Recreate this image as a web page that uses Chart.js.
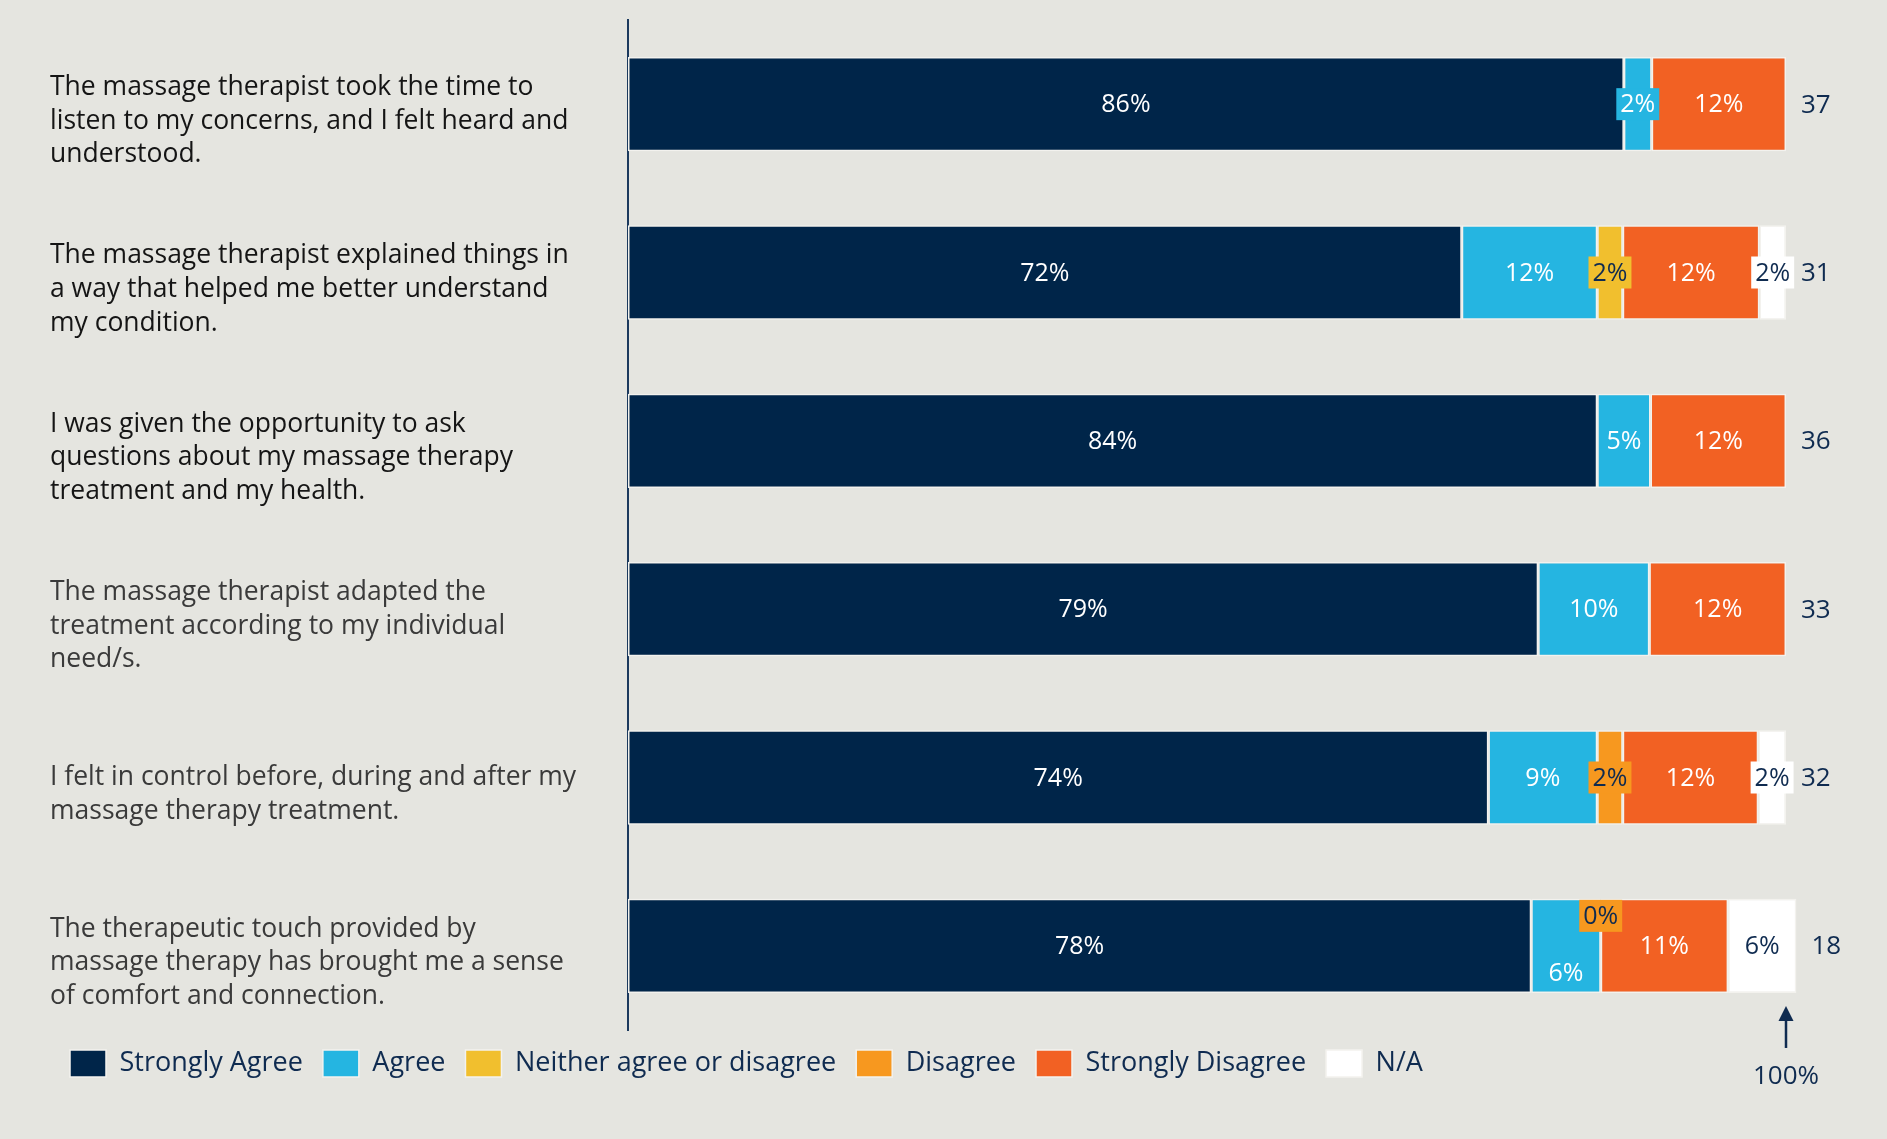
<!DOCTYPE html>
<html lang="en">
<head>
    <meta charset="UTF-8">
    <title>Massage therapy survey responses</title>
    <script src="https://cdn.jsdelivr.net/npm/chart.js"></script>
    <style>
        html, body { margin: 0; padding: 0; background: #e5e5e0; }
        #wrap { width: 1887px; height: 1139px; position: relative; }
    </style>
</head>
<body>
    <div id="wrap"><canvas id="surveyChart"></canvas></div>
    <script>
        // questions (one array of lines per bar)
        const questions = [
            ['The massage therapist took the time to', 'listen to my concerns, and I felt heard and', 'understood.'],
            ['The massage therapist explained things in', 'a way that helped me better understand', 'my condition.'],
            ['I was given the opportunity to ask', 'questions about my massage therapy', 'treatment and my health.'],
            ['The massage therapist adapted the', 'treatment according to my individual', 'need/s.'],
            ['I felt in control before, during and after my', 'massage therapy treatment.'],
            ['The therapeutic touch provided by', 'massage therapy has brought me a sense', 'of comfort and connection.']
        ];

        // percentages per answer, one value per question (null = no answers)
        const stronglyAgree    = [86, 72, 83.7, 78.6, 74.3, 78];
        const agree            = [2.4, 11.7, 4.6, 9.6, 9.4, 6];
        const neither          = [null, 2.2, null, null, null, null];
        const disagree         = [null, null, null, null, 2.2, 0];
        const stronglyDisagree = [11.6, 11.8, 11.7, 11.8, 11.7, 11];
        const notApplicable    = [null, 2.3, null, null, 2.4, 5.9];

        // number of respondents per question
        const respondents = [37, 31, 36, 33, 32, 18];

        const NAVY = '#0f2b50';
        const FONT = "'Open Sans', sans-serif";

        Chart.defaults.font.family = FONT;

        const series = [
            { label: 'Strongly Agree', data: stronglyAgree, color: '#002549', text: '#ffffff' },
            { label: 'Agree', data: agree, color: '#25b5e1', text: '#ffffff' },
            { label: 'Neither agree or disagree', data: neither, color: '#f1bf2e', text: NAVY },
            { label: 'Disagree', data: disagree, color: '#f7981f', text: NAVY },
            { label: 'Strongly Disagree', data: stronglyDisagree, color: '#f26123', text: '#ffffff' },
            { label: 'N/A', data: notApplicable, color: '#ffffff', text: NAVY }
        ];

        const bgPlugin = {
            id: 'bg',
            beforeDraw(chart) {
                const { ctx, width, height } = chart;
                ctx.save();
                ctx.fillStyle = '#e5e5e0';
                ctx.fillRect(0, 0, width, height);
                ctx.restore();
            }
        };

        // percentage labels inside the segments, plus respondent counts
        const segLabels = {
            id: 'segLabels',
            afterDatasetsDraw(chart) {
                const { ctx } = chart;
                ctx.save();
                ctx.textAlign = 'center';
                ctx.textBaseline = 'middle';
                for (let i = 0; i < questions.length; i++) {
                    ctx.font = '25px ' + FONT;
                    const items = [];
                    let endX = 0, rowY = 0;
                    chart.data.datasets.forEach((ds, d) => {
                        const v = ds.data[i];
                        if (v === null || v === undefined) return;
                        const bar = chart.getDatasetMeta(d).data[i];
                        const text = Math.round(v) + '%';
                        const w = ctx.measureText(text).width;
                        const segW = Math.abs(bar.x - bar.base);
                        items.push({
                            text, w,
                            x: (bar.x + bar.base) / 2,
                            y: bar.y,
                            boxed: w + 6 > segW,
                            fill: series[d].color,
                            color: series[d].text
                        });
                        endX = Math.max(endX, bar.x);
                        rowY = bar.y;
                    });
                    // push colliding neighbours apart vertically
                    for (let k = 1; k < items.length; k++) {
                        const a = items[k - 1], b = items[k];
                        if (b.x - b.w / 2 - 4 < a.x + a.w / 2 + 4) {
                            a.y += 27;
                            b.y -= 30;
                        }
                    }
                    items.forEach(it => {
                        if (it.boxed) {
                            ctx.fillStyle = it.fill;
                            ctx.fillRect(it.x - it.w / 2 - 4, it.y - 16, it.w + 8, 32);
                        }
                        ctx.fillStyle = it.color;
                        ctx.fillText(it.text, it.x, it.y + 1);
                    });

                    ctx.font = '26px ' + FONT;
                    ctx.textAlign = 'left';
                    ctx.fillStyle = NAVY;
                    ctx.fillText(String(respondents[i]), endX + 15, rowY + 1);
                    ctx.textAlign = 'center';
                }
                ctx.restore();
            }
        };

        // arrow marking the 100% line under the last bar
        const hundredMark = {
            id: 'hundredMark',
            afterDraw(chart) {
                const { ctx } = chart;
                const x = chart.scales.x.getPixelForValue(100);
                const last = chart.getDatasetMeta(0).data[questions.length - 1];
                const tip = last.y + last.height / 2 + 13;
                ctx.save();
                ctx.fillStyle = NAVY;
                ctx.strokeStyle = NAVY;
                ctx.lineWidth = 2.5;
                ctx.beginPath();
                ctx.moveTo(x, tip);
                ctx.lineTo(x - 7.5, tip + 15);
                ctx.lineTo(x + 7.5, tip + 15);
                ctx.closePath();
                ctx.fill();
                ctx.beginPath();
                ctx.moveTo(x, tip + 12);
                ctx.lineTo(x, tip + 42);
                ctx.stroke();
                ctx.font = '26px ' + FONT;
                ctx.textAlign = 'center';
                ctx.textBaseline = 'middle';
                ctx.fillText('100%', x, tip + 71);
                ctx.restore();
            }
        };

        const ctx = document.getElementById('surveyChart').getContext('2d');
        const chart = new Chart(ctx, {
            type: 'bar',
            data: {
                labels: questions,
                datasets: series.map(s => ({
                    label: s.label,
                    data: s.data,
                    backgroundColor: s.color,
                    borderColor: '#f3f2ee',
                    borderWidth: 1.5,
                    borderSkipped: false,
                    barPercentage: 1,
                    categoryPercentage: 0.56,
                    clip: false
                }))
            },
            options: {
                indexAxis: 'y',
                responsive: true,
                maintainAspectRatio: false,
                animation: false,
                layout: { padding: { top: 20, left: 50, right: 101, bottom: 52 } },
                scales: {
                    x: { stacked: true, min: 0, max: 100, display: false },
                    y: {
                        stacked: true,
                        grid: { display: false },
                        border: { display: true, color: '#1c3a5e', width: 2 },
                        afterFit: (scale) => {
                            scale.width = 578;
                            scale.paddingTop = 0;
                            scale.paddingBottom = 0;
                        },
                        ticks: {
                            crossAlign: 'far',
                            labelOffset: 17,
                            color: (c) => c.index < 3 ? '#151515' : '#3a3a3a',
                            font: { size: 26.5, lineHeight: 1.27 }
                        }
                    }
                },
                plugins: {
                    legend: {
                        position: 'bottom',
                        align: 'start',
                        labels: {
                            boxWidth: 36,
                            boxHeight: 27,
                            padding: 20,
                            color: NAVY,
                            font: { size: 27 }
                        }
                    },
                    tooltip: { enabled: false }
                }
            },
            plugins: [bgPlugin, segLabels, hundredMark]
        });
    </script>
</body>
</html>
